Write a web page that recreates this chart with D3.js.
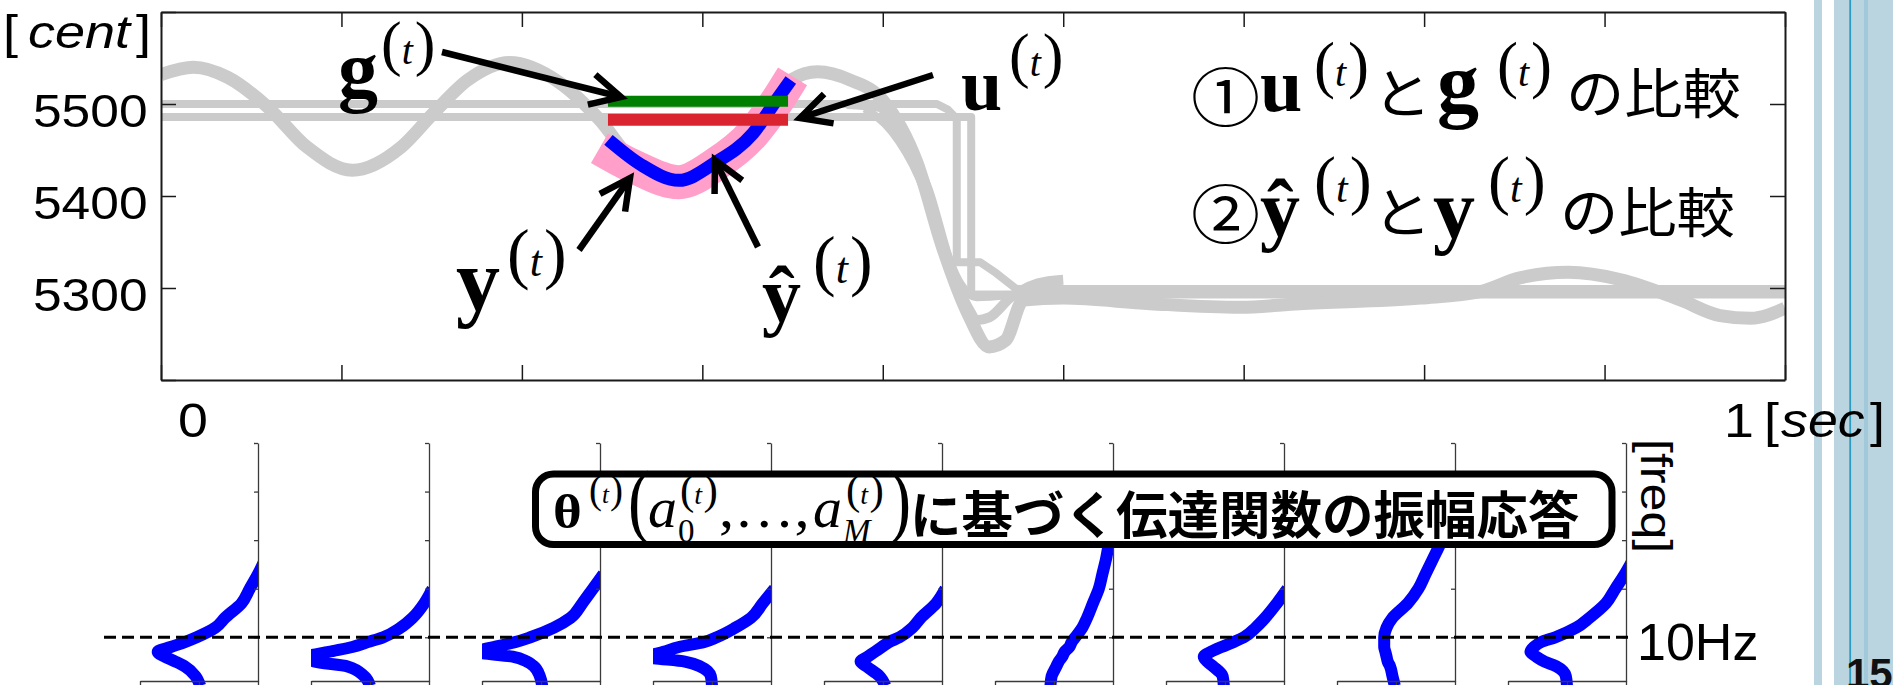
<!DOCTYPE html>
<html>
<head>
<meta charset="utf-8">
<script src="https://cdn.jsdelivr.net/npm/d3@7"></script>
<style>
  html, body { margin: 0; padding: 0; background: #fff; overflow: hidden; }
  svg { display: block; }
</style>
</head>
<body>
<svg id="chart" width="1893" height="685"></svg>
<script>
// ---- data ---------------------------------------------------------------
// top panel: pitch trajectories as [time (sec), pitch (cent)]
var timeTicks = [0, 0.1, 0.2, 0.3, 0.4, 0.5, 0.6, 0.7, 0.8, 0.9];
var centTicks = [5200, 5300, 5400, 5500, 5600];
var centLabels = ["", "5300", "5400", "5500", ""];

var pitchPast = [[0.000, 5532], [0.018, 5540], [0.037, 5529], [0.059, 5497], [0.081, 5453],
  [0.106, 5428], [0.133, 5453], [0.151, 5490], [0.170, 5526], [0.193, 5545], [0.221, 5523],
  [0.243, 5483], [0.262, 5437], [0.287, 5416], [0.307, 5436], [0.328, 5468], [0.349, 5526],
  [0.364, 5535], [0.382, 5526], [0.400, 5504], [0.419, 5436], [0.433, 5345], [0.447, 5273],
  [0.459, 5236], [0.468, 5243], [0.478, 5287], [0.500, 5289], [0.548, 5283], [0.598, 5279],
  [0.631, 5283], [0.698, 5289], [0.731, 5296], [0.753, 5311], [0.780, 5317], [0.809, 5309],
  [0.842, 5287], [0.864, 5270], [0.881, 5267], [0.900, 5278]];
var pitchAlt = [[0.380, 5500], [0.398, 5497], [0.406, 5479], [0.425, 5407], [0.437, 5327],
  [0.448, 5276], [0.452, 5265], [0.459, 5268], [0.471, 5290], [0.486, 5305], [0.500, 5309]];
var pitchAlt2 = [[0.390, 5495], [0.405, 5470], [0.420, 5420], [0.433, 5350], [0.443, 5305],
  [0.452, 5290], [0.470, 5292]];
var scoreA = [[0, 5500], [0.430, 5500], [0.436, 5494], [0.441, 5484], [0.441, 5328],
  [0.454, 5328], [0.463, 5316], [0.474, 5299], [0.900, 5299]];
var scoreB = [[0, 5486], [0.449, 5486], [0.449, 5293], [0.900, 5293]];
var predictedY = [[0.243, 5452], [0.262, 5432], [0.287, 5415], [0.307, 5434], [0.328, 5468],
  [0.342, 5505], [0.350, 5530]];
var outputY = [[0.248, 5461], [0.266, 5434], [0.287, 5417], [0.307, 5436], [0.328, 5468],
  [0.341, 5504], [0.349, 5526]];
var targetG = [[0.2477, 5503], [0.3475, 5503]];
var inputU = [[0.2477, 5483], [0.3475, 5483]];

// bottom panels: amplitude response per frame, gain sampled on freqGrid (Hz)
var freqGrid = [0, 2, 4, 5, 6, 7, 8, 9, 10, 12, 14, 17, 20, 23, 26, 30, 35, 40];
var freqTicks = [10, 20, 30, 40, 50];
var gainTicks = [0, 0.5, 1];
var refFreq = 10;
var gain1 = [0.51, 0.47, 0.38, 0.30, 0.21, 0.15, 0.26, 0.38, 0.48, 0.64, 0.72, 0.86, 0.93, 1.00, 1.06];
var gain2 = [0.50, 0.45, 0.31, 0.03, -0.03, 0.15, 0.35, 0.48, 0.61, 0.76, 0.86, 0.96, 1.03];
var gain3 = [0.51, 0.49, 0.44, 0.38, 0.26, -0.05, 0.10, 0.28, 0.41, 0.61, 0.75, 0.85, 0.94, 1.03];
var gain4 = [0.50, 0.49, 0.40, 0.27, -0.05, 0.09, 0.22, 0.43, 0.54, 0.70, 0.83, 0.93, 1.03];
var gain5 = [0.52, 0.47, 0.36, 0.31, 0.37, 0.43, 0.49, 0.55, 0.64, 0.75, 0.82, 0.95, 1.03];
var gain6 = [0.47, 0.48, 0.52, 0.54, 0.57, 0.59, 0.63, 0.65, 0.68, 0.74, 0.78, 0.83, 0.88, 0.91, 0.94, 0.97, 1.02];
var gain7 = [0.49, 0.48, 0.40, 0.35, 0.32, 0.38, 0.47, 0.57, 0.66, 0.76, 0.84, 0.94, 1.03];
var gain8 = [0.49, 0.47, 0.45, 0.43, 0.42, 0.41, 0.40, 0.40, 0.40, 0.42, 0.47, 0.60, 0.69, 0.75, 0.81, 0.89, 0.98, 1.06];
var gain9 = [0.50, 0.49, 0.41, 0.31, 0.24, 0.19, 0.22, 0.28, 0.40, 0.58, 0.69, 0.83, 0.91, 0.99, 1.06];
var gains = [gain1, gain2, gain3, gain4, gain5, gain6, gain7, gain8, gain9];

(function () {
  "use strict";
  var svg = d3.select("#chart");
  var defs = svg.append("defs");

  var SERIF = "'Liberation Serif','Times New Roman',serif";
  var SANS = "'Liberation Sans',Arial,sans-serif";
  var CJK = "'Noto Sans CJK JP','Noto Sans CJK SC',sans-serif";
  var GRAY = "#cbcbcb";

  var scaleX = d3.scaleLinear().domain([0, 0.9]).range([161, 1785]);
  var scaleY = d3.scaleLinear().domain([5200, 5600]).range([380, 12]);
  var panelX = d3.scaleLinear().domain([0, 8]).range([258, 1626]);
  var gainX = d3.scaleLinear().domain([0, 1]).range([-118, 0]);
  var freqY = d3.scaleLinear().domain([1, 50]).range([681, 443]);

  function translate(x, y) { return "translate(" + x + "," + y + ")"; }

  function text(parent, x, y, str, o) {
    o = o || {};
    return parent.append("text")
      .attr("transform", translate(x, y) + (o.rotate ? " rotate(" + o.rotate + ")" : "") +
            " scale(" + (o.sx || 1) + ",1)")
      .attr("font-family", o.font || SANS)
      .attr("font-size", o.size || 48)
      .attr("font-weight", o.bold ? "bold" : null)
      .attr("font-style", o.italic ? "italic" : null)
      .attr("fill", o.fill || "#000")
      .text(str);
  }

  // "(t)" superscript with tall parens
  function supT(parent, x, y, p) {
    var t = parent.append("text").attr("transform", translate(x, y)).attr("font-family", SERIF);
    t.append("tspan").attr("font-size", p).text("(");
    t.append("tspan").attr("font-size", Math.round(p * 0.64)).attr("font-style", "italic").text("t");
    t.append("tspan").attr("font-size", p).attr("dx", p * 0.03).text(")");
  }

  function arrow(parent, tail, tip) {
    var a = Math.atan2(tip[1] - tail[1], tip[0] - tail[0]);
    var L = 34, h = 27 * Math.PI / 180;
    var p1 = [tip[0] - L * Math.cos(a - h), tip[1] - L * Math.sin(a - h)];
    var p2 = [tip[0] - L * Math.cos(a + h), tip[1] - L * Math.sin(a + h)];
    parent.append("line")
      .attr("x1", tail[0]).attr("y1", tail[1])
      .attr("x2", tip[0] - 3 * Math.cos(a)).attr("y2", tip[1] - 3 * Math.sin(a))
      .attr("stroke", "#000").attr("stroke-width", 6.5);
    parent.append("path")
      .attr("d", "M" + p1 + "L" + tip + "L" + p2)
      .attr("fill", "none").attr("stroke", "#000").attr("stroke-width", 6.5);
  }

  // slide decoration on the right edge
  var deco = svg.append("g");
  deco.append("rect").attr("x", 1814).attr("y", 0).attr("width", 8).attr("height", 685).attr("fill", "#bad5e0");
  deco.append("rect").attr("x", 1834).attr("y", 0).attr("width", 59).attr("height", 685).attr("fill", "#bad5e0");
  deco.append("rect").attr("x", 1864).attr("y", 0).attr("width", 4).attr("height", 685).attr("fill", "#a2c9d9");
  deco.append("rect").attr("x", 1849.3).attr("y", 0).attr("width", 1.8).attr("height", 685).attr("fill", "#2b9cc0");

  // ---- top chart --------------------------------------------------------
  defs.append("clipPath").attr("id", "clipTop").append("rect")
    .attr("x", 161).attr("y", 12).attr("width", 1624).attr("height", 368);

  var smooth = d3.line().x(function (d) { return scaleX(d[0]); })
    .y(function (d) { return scaleY(d[1]); }).curve(d3.curveMonotoneX);
  var straight = d3.line().x(function (d) { return scaleX(d[0]); })
    .y(function (d) { return scaleY(d[1]); });

  var plot = svg.append("g").attr("clip-path", "url(#clipTop)");
  [[scoreB, straight, 8], [scoreA, straight, 8], [pitchAlt2, smooth, 8],
   [pitchAlt, smooth, 10], [pitchPast, smooth, 13]].forEach(function (s) {
    plot.append("path").datum(s[0]).attr("d", s[1])
      .attr("fill", "none").attr("stroke", GRAY).attr("stroke-width", s[2])
      .attr("stroke-linejoin", "round");
  });
  plot.append("path").datum(predictedY).attr("d", smooth)
    .attr("fill", "none").attr("stroke", "#ff9fca").attr("stroke-width", 34);
  plot.append("path").datum(outputY).attr("d", smooth)
    .attr("fill", "none").attr("stroke", "#0000ff").attr("stroke-width", 13);
  plot.append("path").datum(targetG).attr("d", straight)
    .attr("fill", "none").attr("stroke", "#008000").attr("stroke-width", 11);
  plot.append("path").datum(inputU).attr("d", straight)
    .attr("fill", "none").attr("stroke", "#da2530").attr("stroke-width", 12);

  var axes = svg.append("g").attr("color", "#1a1a1a");
  axes.append("g").attr("transform", translate(0, 380))
    .call(d3.axisBottom(scaleX).tickValues(timeTicks).tickSize(-15).tickSizeOuter(0).tickFormat(""));
  axes.append("g").attr("transform", translate(0, 12))
    .call(d3.axisTop(scaleX).tickValues(timeTicks).tickSize(-15).tickSizeOuter(0).tickFormat(""));
  axes.append("g").attr("transform", translate(1785, 0))
    .call(d3.axisRight(scaleY).tickValues(centTicks).tickSize(-15).tickSizeOuter(0).tickFormat(""));
  var yAxis = axes.append("g").attr("transform", translate(161, 0))
    .call(d3.axisLeft(scaleY).tickValues(centTicks).tickSize(-15).tickSizeOuter(0).tickPadding(12)
      .tickFormat(function (d) { return centLabels[centTicks.indexOf(d)]; }));
  yAxis.selectAll("text").attr("font-family", SANS).attr("font-size", 46)
    .attr("dy", 22).attr("transform", "scale(1.12,1)").attr("fill", "#000");
  axes.selectAll(".domain").attr("stroke-width", 2);
  axes.selectAll(".tick line").attr("stroke-width", 1.5);

  // axis captions
  var cap = svg.append("g");
  text(cap, 3, 48, "[", { size: 47, sx: 1.15 });
  text(cap, 28, 48, "cent", { size: 47, sx: 1.15, italic: true });
  text(cap, 136, 48, "]", { size: 47, sx: 1.15 });
  text(cap, 178, 437, "0", { size: 48, sx: 1.12 });
  text(cap, 1724, 437, "1", { size: 48, sx: 1.12 });
  text(cap, 1764, 437, "[", { size: 48, sx: 1.12 });
  text(cap, 1781, 437, "sec", { size: 48, sx: 1.12, italic: true });
  text(cap, 1870, 437, "]", { size: 48, sx: 1.12 });

  // annotations on the top chart
  var ann = svg.append("g");
  arrow(ann, [442, 52], [621, 97]);
  arrow(ann, [933, 75], [800, 118]);
  arrow(ann, [579, 250], [630, 178]);
  arrow(ann, [758, 247], [715, 160]);
  text(ann, 338, 97, "g", { font: SERIF, size: 80, bold: true });
  supT(ann, 381, 64, 62);
  text(ann, 961, 110, "u", { font: SERIF, size: 74, bold: true });
  supT(ann, 1009, 76, 62);
  text(ann, 456, 310, "y", { font: SERIF, size: 88, bold: true });
  supT(ann, 507, 276, 68);
  text(ann, 762, 321, "\u0177", { font: SERIF, size: 78, bold: true });
  supT(ann, 813, 283, 68);

  // comparison notes
  text(ann, 1191, 121, "\u2460", { font: CJK, size: 64, sx: 1.08 });
  text(ann, 1260, 111, "u", { font: SERIF, size: 76, bold: true });
  supT(ann, 1314, 86, 63);
  text(ann, 1373, 114, "と", { font: CJK, size: 54, sx: 1.08 });
  text(ann, 1437, 112, "g", { font: SERIF, size: 84, bold: true });
  supT(ann, 1497, 86, 63);
  text(ann, 1566, 114, "の比較", { font: CJK, size: 54, sx: 1.08 });

  text(ann, 1191, 238, "\u2461", { font: CJK, size: 64, sx: 1.08 });
  text(ann, 1260, 236, "\u0177", { font: SERIF, size: 80, bold: true });
  supT(ann, 1314, 202, 66);
  text(ann, 1373, 233, "と", { font: CJK, size: 54, sx: 1.08 });
  text(ann, 1433, 238, "y", { font: SERIF, size: 84, bold: true });
  supT(ann, 1488, 202, 66);
  text(ann, 1560, 233, "の比較", { font: CJK, size: 54, sx: 1.08 });

  // ---- bottom panels: amplitude responses -------------------------------
  var resp = d3.line()
    .defined(function (d) { return d[1] != null; })
    .x(function (d) { return gainX(d[1]); })
    .y(function (d) { return freqY(d[0]); })
    .curve(d3.curveMonotoneY);

  gains.forEach(function (g, i) {
    var p = svg.append("g").attr("transform", translate(panelX(i), 0)).attr("color", "#3a3a3a");
    p.append("clipPath").attr("id", "clipP" + i).append("rect")
      .attr("x", gainX(0)).attr("y", freqY(50)).attr("width", gainX(1) - gainX(0)).attr("height", 250);
    p.append("path")
      .datum(freqGrid.map(function (f, k) { return [f, g[k]]; }))
      .attr("clip-path", "url(#clipP" + i + ")")
      .attr("d", resp)
      .attr("fill", "none").attr("stroke", "#0000ff").attr("stroke-width", 12)
      .attr("stroke-linejoin", "round");
    p.append("g")
      .call(d3.axisLeft(freqY).tickValues(freqTicks).tickSize(4).tickSizeOuter(0).tickFormat(""));
    p.append("line").attr("x1", 0.5).attr("x2", 0.5).attr("y1", freqY(1)).attr("y2", 685)
      .attr("stroke", "currentColor");
    p.append("g").attr("transform", translate(0, freqY(1)))
      .call(d3.axisBottom(gainX).tickValues(gainTicks).tickSize(4).tickSizeOuter(0).tickFormat(""));
    p.selectAll(".domain, .tick line").attr("stroke-width", 1.3);
  });

  // 10 Hz reference line
  svg.append("line")
    .attr("x1", 104).attr("x2", 1632)
    .attr("y1", freqY(refFreq)).attr("y2", freqY(refFreq))
    .attr("stroke", "#000").attr("stroke-width", 3).attr("stroke-dasharray", "12,6");

  var low = svg.append("g");
  text(low, 1641, 439, "[freq]", { size: 44, rotate: 90, sx: 1.14 });
  text(low, 1637, 660, "10Hz", { size: 52 });

  // caption box
  low.append("rect")
    .attr("x", 535.5).attr("y", 474).attr("width", 1076.5).attr("height", 70.5)
    .attr("rx", 18).attr("ry", 18)
    .attr("fill", "#fff").attr("stroke", "#000").attr("stroke-width", 7);
  text(low, 553, 528, "\u03b8", { font: SERIF, size: 48, bold: true, sx: 1.15 });
  supT(low, 589, 503, 39);
  text(low, 628, 528, "(", { font: SERIF, size: 83, sx: 0.8 });
  text(low, 648, 527, "a", { font: SERIF, size: 58, italic: true });
  text(low, 678, 542, "0", { font: SERIF, size: 33 });
  supT(low, 680, 504, 43);
  text(low, 719, 527, ",\u2026,", { font: SERIF, size: 56, sx: 1.08 });
  text(low, 813, 527, "a", { font: SERIF, size: 58, italic: true });
  text(low, 843, 542, "M", { font: SERIF, size: 33, italic: true });
  supT(low, 846, 504, 43);
  text(low, 889, 528, ")", { font: SERIF, size: 83, sx: 0.8 });
  text(low, 910, 534, "に基づく伝達関数の振幅応答", { font: CJK, size: 51, bold: true, sx: 1.01 });

  // page number
  text(svg, 1846, 688, "15", { size: 42, bold: true, fill: "#111" });
})();
</script>
</body>
</html>
